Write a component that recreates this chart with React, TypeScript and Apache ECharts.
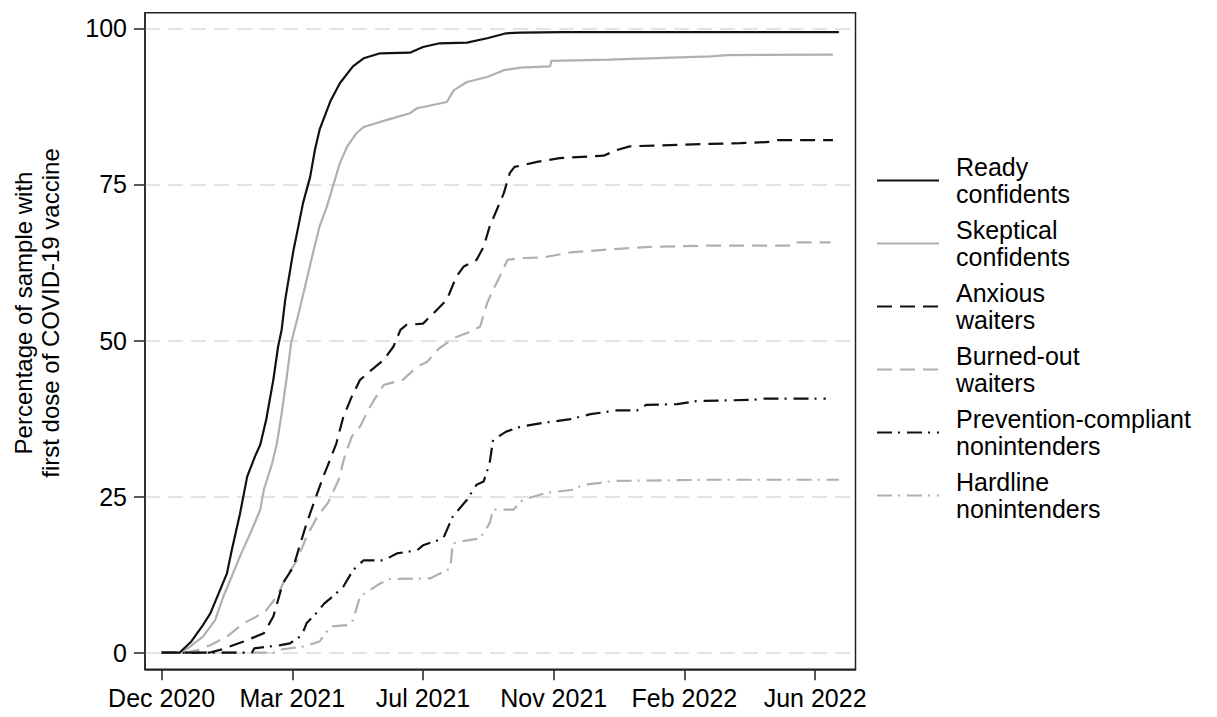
import React, { useEffect, useRef } from "react";
import * as echarts from "echarts";

// x = days since 8 Dec 2020; ticks every 110 days
const xTickDays = [0, 110, 220, 330, 440, 550];
const xTickLabels = ["Dec 2020", "Mar 2021", "Jul 2021", "Nov 2021", "Feb 2022", "Jun 2022"];
const yTicks = [0, 25, 50, 75, 100];

const seriesNames = [
  "Ready confidents",
  "Skeptical confidents",
  "Anxious waiters",
  "Burned-out waiters",
  "Prevention-compliant nonintenders",
  "Hardline nonintenders",
];
const legendLabels = [
  "Ready\nconfidents",
  "Skeptical\nconfidents",
  "Anxious\nwaiters",
  "Burned-out\nwaiters",
  "Prevention-compliant\nnonintenders",
  "Hardline\nnonintenders",
];

const readyConfidents = [
  [0, 0], [15, 0], [25, 1.8], [34, 4.2], [41, 6.3], [48, 9.5], [55, 12.7], [59, 16.4], [66, 22.3],
  [72, 28.2], [78.5, 31.4], [83, 33.3], [88, 37.3], [94, 43.7], [98, 49], [101, 51.7], [104, 56.5],
  [111, 64.5], [115, 68.2], [119, 72], [125, 76.2], [129, 80.5], [133, 83.8], [142, 88.3], [150, 91.2],
  [161, 93.9], [170, 95.2], [184, 96], [209, 96.1], [220, 97], [234, 97.6], [257, 97.7], [274, 98.4],
  [290, 99.2], [302, 99.3], [338, 99.4], [570, 99.4],
];
const skepticalConfidents = [
  [0, 0], [15, 0], [22, 0.7], [35, 2.6], [45, 5.2], [52, 9], [59, 12.2], [67, 15.9], [76, 19.7],
  [83, 22.9], [86, 26.1], [93, 30.3], [97, 33.5], [101, 38.3], [105, 43.7], [109, 49.6], [116, 54.9],
  [128, 64.5], [133, 68.3], [139, 71.4], [145, 75.2], [150, 78.4], [156, 81], [164, 83.2], [170, 84.2],
  [189, 85.3], [209, 86.4], [215, 87.2], [240, 88.2], [246, 90.1], [257, 91.4], [274, 92.2], [288, 93.3],
  [302, 93.7], [327, 93.9], [328, 94.8], [377, 95], [462, 95.5], [476, 95.7], [565, 95.8],
];
const anxiousWaiters = [
  [0, 0], [40, 0], [50, 0.5], [69, 1.8], [86, 3.1], [94, 5.8], [102, 11.1], [111, 13.8], [116, 17],
  [122, 20.7], [130, 25], [136, 28.2], [142, 31], [147, 33.5], [153, 37.8], [160, 41], [167, 43.7],
  [178, 45.5], [187, 46.9], [195, 49], [201, 51.7], [206, 52.5], [220, 52.7], [229, 54.4], [240, 56.5],
  [248, 60.2], [254, 61.8], [265, 62.9], [271, 65], [276, 68.2], [282, 70.9], [288, 73.6], [293, 76.8],
  [297, 77.8], [302, 78], [316, 78.6], [335, 79.2], [372, 79.6], [383, 80.5], [394, 81.1], [462, 81.5],
  [487, 81.6], [512, 81.8], [518, 82.1], [565, 82.1],
];
const burnedOutWaiters = [
  [0, 0], [20, 0], [30, 0.4], [41, 1.2], [55, 2.6], [69, 4.7], [80, 5.8], [88, 6.8], [97, 9],
  [105, 12.2], [114, 14.8], [122, 18.6], [131, 21.8], [140, 24], [149, 27.7], [154, 31.4], [160, 34.6],
  [167, 36.2], [174, 38.9], [182, 41.5], [187, 42.9], [203, 43.7], [215, 45.8], [223, 46.5], [234, 48.8],
  [246, 50.4], [257, 51.2], [268, 52.2], [274, 56], [279, 58.1], [286, 60.8], [291, 62.9], [302, 63.2],
  [321, 63.3], [344, 64.1], [377, 64.6], [411, 65], [462, 65.2], [528, 65.2], [530, 65.7], [563, 65.7],
];
const preventionCompliant = [
  [0, 0], [76, 0], [78, 0.7], [100, 1.2], [108, 1.5], [118, 2.8], [122, 4.7], [130, 6.3], [137, 7.9],
  [144, 9], [153, 10.6], [161, 13.2], [170, 14.8], [187, 14.8], [198, 15.9], [215, 16.4], [220, 17.2],
  [237, 18.3], [245, 21.8], [257, 24.5], [265, 26.9], [271, 27.4], [276, 30.3], [279, 34.1], [290, 35.4],
  [302, 36.2], [321, 36.8], [344, 37.4], [361, 38.2], [383, 38.8], [400, 38.8], [408, 39.7], [434, 39.8],
  [450, 40.3], [498, 40.5], [506, 40.7], [559, 40.7],
];
const hardlineNonintenders = [
  [0, 0], [95, 0], [100, 0.5], [120, 1], [133, 1.8], [142, 4.2], [156, 4.4], [161, 5.2], [167, 9],
  [175, 10], [184, 11.1], [192, 11.8], [226, 11.9], [243, 13.5], [245, 17.5], [257, 18], [268, 18.3],
  [276, 20.7], [279, 22.9], [296, 22.9], [304, 24.5], [324, 25.6], [346, 26.1], [355, 26.9], [369, 27.2],
  [380, 27.5], [462, 27.7], [570, 27.7],
];

const seriesData = [
  readyConfidents,
  skepticalConfidents,
  anxiousWaiters,
  burnedOutWaiters,
  preventionCompliant,
  hardlineNonintenders,
];

const BLACK = "#111111";
const GRAY = "#b0b0b0";
const seriesColors = [BLACK, GRAY, BLACK, GRAY, BLACK, GRAY];
const DASH = [15, 8];
const DASHDOT = [15, 6, 2, 7];
const seriesDash: any[] = ["solid", "solid", DASH, DASH, DASHDOT, DASHDOT];

const FONT = "'Liberation Sans', Arial, sans-serif";

export default function App() {
  const ref = useRef<HTMLDivElement>(null);
  useEffect(() => {
    if (!ref.current) return;
    const chart = echarts.init(ref.current, undefined, { renderer: "svg" });
    chart.setOption({
      animation: false,
      backgroundColor: "#ffffff",
      textStyle: { fontFamily: FONT },
      grid: {
        left: 145,
        right: 361.5,
        top: 12.7,
        bottom: 47.7,
        show: true,
        borderColor: "#222",
        borderWidth: 1.5,
        backgroundColor: "transparent",
      },
      xAxis: {
        type: "value",
        min: -14,
        max: 584,
        axisLine: { show: true, onZero: false, lineStyle: { color: "#222", width: 1.5 } },
        axisTick: { show: true, length: 11, customValues: xTickDays, lineStyle: { color: "#222", width: 1.5 } },
        axisLabel: {
          customValues: xTickDays,
          margin: 16,
          fontSize: 25,
          color: "#000",
          fontFamily: FONT,
          formatter: (v: number) => {
            const i = xTickDays.indexOf(Math.round(v));
            return i >= 0 ? xTickLabels[i] : "";
          },
        },
        splitLine: { show: false },
      },
      yAxis: {
        type: "value",
        min: -2.66,
        max: 102.5,
        axisLine: { show: true, onZero: false, lineStyle: { color: "#222", width: 1.5 } },
        axisTick: { show: true, length: 11, customValues: yTicks, lineStyle: { color: "#222", width: 1.5 } },
        axisLabel: {
          customValues: yTicks,
          margin: 18,
          fontSize: 25,
          color: "#000",
          fontFamily: FONT,
        },
        splitLine: { show: true, lineStyle: { color: "#dadada", width: 1.5, type: [15, 8] } },
      },
      legend: {
        orient: "vertical",
        left: 876,
        top: 154,
        padding: 0,
        itemWidth: 62,
        itemHeight: 14,
        itemGap: 10,
        selectedMode: false,
        data: seriesNames,
        itemStyle: { opacity: 0 },
        formatter: (name: string) => legendLabels[seriesNames.indexOf(name)],
        textStyle: { fontSize: 25, lineHeight: 26.5, color: "#000", fontFamily: FONT, padding: [0, 0, 0, 12] },
      },
      graphic: [
        {
          type: "text",
          x: 37,
          y: 313,
          rotation: Math.PI / 2,
          style: {
            text: "Percentage of sample with\nfirst dose of COVID-19 vaccine",
            fontSize: 24,
            lineHeight: 27,
            fontFamily: FONT,
            fill: "#000",
            align: "center",
            verticalAlign: "middle",
          },
        },
      ],
      series: seriesNames.map((name, i) => ({
        name,
        type: "line",
        data: seriesData[i],
        symbol: "none",
        showSymbol: false,
        lineStyle: { color: seriesColors[i], width: 2.2, type: seriesDash[i] },
        itemStyle: { color: seriesColors[i] },
        z: 10 - i,
      })),
    });
    return () => chart.dispose();
  }, []);
  return (
    <div
      ref={ref}
      style={{ position: "fixed", left: 0, top: 0, width: 1217, height: 717, background: "#fff" }}
    />
  );
}
